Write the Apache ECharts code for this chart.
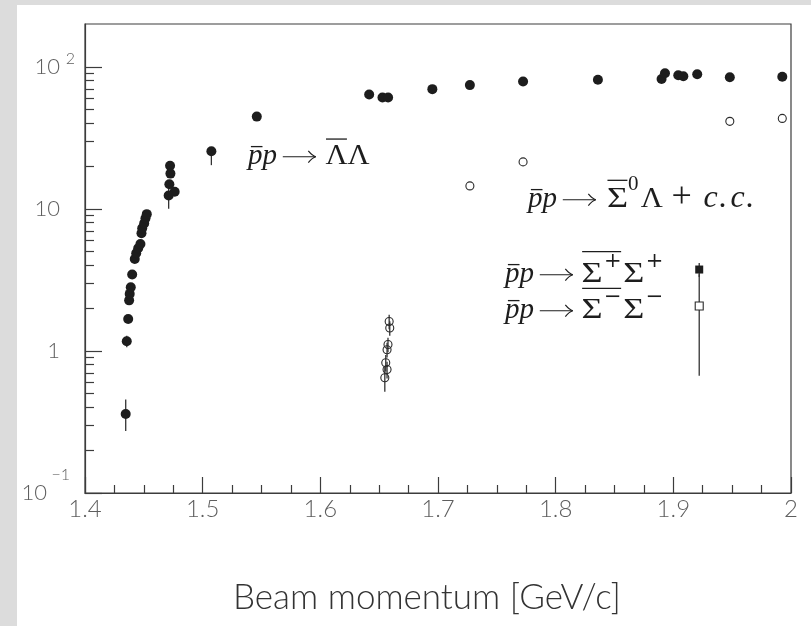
<!DOCTYPE html>
<html>
<head>
<meta charset="utf-8">
<script src="https://cdn.jsdelivr.net/npm/echarts@6/dist/echarts.min.js"></script>
<style>
  html, body { margin: 0; padding: 0; background: #fff; }
  #chart { width: 811px; height: 626px; }
</style>
</head>
<body>
<div id="chart"></div>
<script>
// ---- p̄p → Λ̄Λ : beam momentum [GeV/c], cross section [μb], error down / up ----
const lambdaMomentum = [
  1.4346, 1.4355, 1.4367, 1.4375, 1.4380, 1.4389, 1.4401, 1.4423, 1.4435, 1.4452,
  1.4471, 1.4480, 1.4486, 1.4503, 1.4514, 1.4525,
  1.4723, 1.4726, 1.4717, 1.4762, 1.4711,
  1.5074, 1.5460, 1.6415, 1.6528, 1.6576, 1.6952, 1.7271, 1.7723, 1.8359,
  1.8900, 1.8929, 1.9042, 1.9085, 1.9203, 1.9480, 1.9926
];
const lambdaSigma = [
  0.36, 1.17, 1.68, 2.27, 2.52, 2.81, 3.45, 4.43, 4.87, 5.28,
  5.66, 6.73, 7.29, 7.90, 8.57, 9.18,
  20.1, 17.7, 14.9, 13.2, 12.4,
  25.4, 44.6, 63.8, 60.7, 60.7, 69.6, 74.3, 78.8, 81.1,
  82.1, 90.1, 87.1, 85.8, 88.7, 84.5, 85.0
];
const lambdaErrDown = [
  0.087, 0.11, 0.08, 0.10, 0.10, 0.12, 0.15, 0.20, 0.20, 0.25,
  0.25, 0.30, 0.30, 0.35, 0.40, 0.40,
  0.8, 0.8, 0.8, 0.8, 2.4,
  5.1, 1.0, 1.0, 1.0, 1.0, 1.0, 1.0, 1.0, 1.0,
  1.0, 1.0, 1.0, 1.0, 1.0, 1.0, 1.0
];
const lambdaErrUp = [
  0.095, 0.11, 0.08, 0.10, 0.10, 0.12, 0.15, 0.20, 0.20, 0.25,
  0.25, 0.30, 0.30, 0.35, 0.40, 0.40,
  0.8, 0.8, 0.8, 0.8, 2.4,
  1.0, 1.0, 1.0, 1.0, 1.0, 1.0, 1.0, 1.0, 1.0,
  1.0, 1.0, 1.0, 1.0, 1.0, 1.0, 1.0
];

// ---- p̄p → Σ̄0Λ + c.c. ----
const sigma0Momentum = [1.6548, 1.6556, 1.6567, 1.6567, 1.6575, 1.6590, 1.6585, 1.7271, 1.7723, 1.9480, 1.9926];
const sigma0Sigma    = [0.647, 0.826, 0.74, 1.02, 1.11, 1.45, 1.61, 14.5, 21.4, 41.3, 43.3];
const sigma0Err      = [0.13, 0.11, 0.10, 0.12, 0.13, 0.17, 0.19, 0, 0, 0, 0];

// ---- p̄p → Σ̄+Σ+ and p̄p → Σ̄−Σ− ----
const sigmaPlusMomentum  = [1.922];
const sigmaPlusSigma     = [3.74];
const sigmaPlusErr       = [0.42];
const sigmaMinusMomentum = [1.922];
const sigmaMinusSigma    = [2.07];
const sigmaMinusErr      = [1.40];

// ---- axis ticks ----
const xTickValues = [1.4, 1.5, 1.6, 1.7, 1.8, 1.9, 2.0];
const xTickLabels = ['1.4', '1.5', '1.6', '1.7', '1.8', '1.9', '2'];
const yMajorTicks = [0.1, 1, 10, 100];
const yTickMantissa = ['10', '1', '10', '10'];
const yPosExponentTicks = [100];
const yPosExponentLabel = ['2'];
const yNegExponentTicks = [0.1];
const yNegExponentLabel = ['\u22121'];
const yMinorTicks = [0.2, 0.3, 0.4, 0.5, 0.6, 0.7, 0.8, 0.9,
                     2, 3, 4, 5, 6, 7, 8, 9,
                     20, 30, 40, 50, 60, 70, 80, 90];

const ink = '#1d1d1d';
const frame = '#3c3c3c';
const labelGrey = '#5e5e5e';
const sansFamily = 'Lato, "Open Sans", sans-serif';
const serifFamily = '"Liberation Serif", "DejaVu Serif", serif';
const symbolFamily = '"DejaVu Serif", "Liberation Serif", serif';

const zip2 = (a, b) => a.map((v, i) => [v, b[i]]);
const bars = (x, y, dn, up) => x.map((v, i) => [v, y[i] - dn[i], y[i] + up[i]]);
const sameLog = (a, b) => Math.abs(Math.log10(a) - Math.log10(b)) < 1e-6;

// ---- math-style reaction labels, laid out piece by piece ----
const measure = document.createElement('canvas').getContext('2d');
function formula(parts, left, baseline, size) {
  const out = [];
  const over = {};
  let x = left;
  parts.forEach(p => {
    x += (p.gap || 0) * size;
    if (p.arrow) {
      // long right arrow on the math axis
      const w = p.arrow * size;
      const y = baseline - 0.25 * size;
      const tip = x + w;
      out.push({ type: 'line', z: 20, shape: { x1: x, y1: y, x2: tip - 1, y2: y },
                 style: { stroke: ink, lineWidth: 1.2 } });
      [-1, 1].forEach(s => out.push({ type: 'bezierCurve', z: 20,
        shape: { x1: tip - 0.26 * size, y1: y + s * 0.2 * size, x2: tip, y2: y,
                 cpx1: tip - 0.12 * size, cpy1: y + s * 0.03 * size },
        style: { stroke: ink, lineWidth: 1.2, fill: null } }));
      x = tip;
      return;
    }
    const fs = Math.round(size * (p.scale || (p.sup ? 0.72 : 1)));
    const font = (p.it ? 'italic ' : '') + fs + 'px ' + (p.family || serifFamily);
    const sx = p.sx || 1;
    measure.font = font;
    measure.textBaseline = 'middle';
    const w = measure.measureText(p.t).width * sx;
    const drop = measure.measureText('x').actualBoundingBoxDescent;
    const base = baseline - (p.sup ? (p.raise || 0.45) * size : 0);
    out.push({
      type: 'text', x: x, y: base - drop, z: 20, scaleX: sx,
      style: { text: p.t, font: font, fill: ink, align: 'left', verticalAlign: 'middle' }
    });
    if (p.bar) {
      const o = over[p.bar] || (over[p.bar] = { x1: x + (p.it ? 0.1 * size : 0.02 * size), x2: x + w, h: 0 });
      o.x2 = x + w - (p.it ? 0 : 0.02 * size);
      o.h = Math.max(o.h, p.barH || 0);
    }
    x += w;
  });
  Object.keys(over).forEach(k => {
    const o = over[k];
    const y = baseline - o.h * size;
    out.push({
      type: 'line', z: 20,
      shape: { x1: o.x1, y1: y, x2: o.x2, y2: y },
      style: { stroke: ink, lineWidth: 1.3 }
    });
  });
  return out;
}

const S = 29;
const pbarp = [{ t: 'p', it: true, bar: 'a', barH: 0.6 }, { t: 'p', it: true }, { arrow: 1.14, gap: 0.2 }];
const labelLambda = formula(pbarp.concat([
  { t: '\u039B', gap: 0.33, bar: 'b', barH: 0.86, sx: 1.05 }, { t: '\u039B', sx: 1.05 }
]), 248, 164, S);
const labelSigma0 = formula(pbarp.concat([
  { t: '\u03A3', gap: 0.38, bar: 'b', barH: 0.92, sx: 1.25 }, { t: '0', sup: true, raise: 0.58 },
  { t: '\u039B', gap: 0.08, sx: 1.05 },
  { t: '+', gap: 0.3, scale: 1.25 },
  { t: 'c', it: true, gap: 0.4, scale: 1.12 }, { t: '.', it: true, gap: 0.05, scale: 1.12 },
  { t: 'c', it: true, gap: 0.12, scale: 1.12 }, { t: '.', it: true, gap: 0.05, scale: 1.12 }
]), 528, 207, S);
const labelSigmaPlus = formula(pbarp.concat([
  { t: '\u03A3', gap: 0.3, bar: 'b', barH: 1.05, sx: 1.25 },
  { t: '+', sup: true, bar: 'b', family: symbolFamily, raise: 0.52, gap: 0.05 },
  { t: '\u03A3', sx: 1.25, gap: 0.05 },
  { t: '+', sup: true, family: symbolFamily, raise: 0.52, gap: 0.05 }
]), 505, 282, S);
const labelSigmaMinus = formula(pbarp.concat([
  { t: '\u03A3', gap: 0.3, bar: 'b', barH: 1.02, sx: 1.25 },
  { t: '\u2212', sup: true, bar: 'b', family: symbolFamily, raise: 0.52, gap: 0.05 },
  { t: '\u03A3', sx: 1.25, gap: 0.05 },
  { t: '\u2212', sup: true, family: symbolFamily, raise: 0.52, gap: 0.05 }
]), 505, 318, S);

const errorBarSeries = (data) => ({
  type: 'custom',
  data: data,
  encode: { x: 0, y: [1, 2] },
  z: 3,
  silent: true,
  renderItem: (params, api) => {
    const a = api.coord([api.value(0), api.value(1)]);
    const b = api.coord([api.value(0), api.value(2)]);
    return {
      type: 'line',
      shape: { x1: a[0], y1: a[1], x2: b[0], y2: b[1] },
      style: { stroke: '#333', lineWidth: 1.3 }
    };
  }
});

const chart = echarts.init(document.getElementById('chart'), null, { renderer: 'canvas' });

// all y axes share one logarithmic scale; the extra ones only carry ticks or exponents
const logAxis = (extra) => Object.assign({
  type: 'log', logBase: 10, min: 0.1, max: 200,
  position: 'left',
  axisLine: { show: false },
  axisTick: { show: false },
  axisLabel: { show: false },
  splitLine: { show: false },
  minorTick: { show: false },
  minorSplitLine: { show: false }
}, extra);

const exponentLabel = (ticks, texts, margin, lift) => ({
  show: true, customValues: ticks, margin: margin,
  fontSize: 16, fontWeight: 300, fontFamily: sansFamily, color: labelGrey,
  verticalAlign: 'bottom', padding: [0, 0, lift, 0],
  formatter: v => {
    const i = ticks.findIndex(t => sameLog(t, v));
    return i < 0 ? '' : texts[i];
  }
});

chart.setOption({
  animation: false,
  backgroundColor: '#dcdcdc',
  grid: {
    left: 85, right: 20, top: 24, bottom: 133,
    show: true, borderColor: frame, borderWidth: 1.2, backgroundColor: 'transparent',
    outerBoundsMode: 'none'
  },
  xAxis: {
    type: 'value', min: 1.4, max: 2, interval: 0.1,
    axisLine: { lineStyle: { color: frame, width: 1.2 } },
    axisTick: { inside: true, length: 16, lineStyle: { color: frame, width: 1.2 } },
    minorTick: { show: true, splitNumber: 4, length: 8, lineStyle: { color: frame, width: 1.2 } },
    splitLine: { show: false },
    axisLabel: {
      margin: 4, fontSize: 24, fontWeight: 300, fontFamily: sansFamily, color: labelGrey,
      formatter: v => {
        const i = xTickValues.findIndex(t => Math.abs(t - v) < 1e-6);
        return i < 0 ? '' : xTickLabels[i];
      }
    }
  },
  yAxis: [
    logAxis({
      axisLine: { show: true, lineStyle: { color: frame, width: 1.2 } },
      axisTick: { show: true, inside: true, length: 17, customValues: yMajorTicks,
                  lineStyle: { color: frame, width: 1.2 } },
      axisLabel: {
        show: true, margin: 25, customValues: yMajorTicks,
        formatter: v => {
          const i = yMajorTicks.findIndex(t => sameLog(t, v));
          if (i < 0) return '';
          return '{b|' + yTickMantissa[i] + '}' + (yNegExponentTicks.some(t => sameLog(t, v)) ? '{pad|}' : '');
        },
        rich: {
          b:   { fontSize: 22, fontWeight: 300, fontFamily: sansFamily, color: labelGrey },
          pad: { width: 13 }
        }
      }
    }),
    logAxis({
      axisTick: { show: true, inside: true, length: 9, customValues: yMinorTicks,
                  lineStyle: { color: frame, width: 1.2 } }
    }),
    logAxis({ axisLabel: exponentLabel(yPosExponentTicks, yPosExponentLabel, 10, 0) }),
    logAxis({ axisLabel: exponentLabel(yNegExponentTicks, yNegExponentLabel, 15, 10) })
  ],
  graphic: {
    elements: [
      { type: 'rect', z: -100, silent: true, shape: { x: 17, y: 5, width: 794, height: 621 }, style: { fill: '#ffffff' } },
      { type: 'text', x: 427, y: 598, z: 20,
        style: { text: 'Beam momentum [GeV/c]', font: '300 35px ' + sansFamily, fill: '#333', align: 'center', verticalAlign: 'middle' } }
    ].concat(labelLambda, labelSigma0, labelSigmaPlus, labelSigmaMinus)
  },
  series: [
    errorBarSeries(bars(lambdaMomentum, lambdaSigma, lambdaErrDown, lambdaErrUp)),
    errorBarSeries(bars(sigma0Momentum, sigma0Sigma, sigma0Err, sigma0Err)),
    errorBarSeries(bars(sigmaPlusMomentum, sigmaPlusSigma, sigmaPlusErr, sigmaPlusErr)),
    errorBarSeries(bars(sigmaMinusMomentum, sigmaMinusSigma, sigmaMinusErr, sigmaMinusErr)),
    {
      type: 'scatter', name: 'LambdaLambda', z: 5,
      data: zip2(lambdaMomentum, lambdaSigma),
      symbol: 'circle', symbolSize: 10,
      itemStyle: { color: ink, opacity: 1 }
    },
    {
      type: 'scatter', name: 'Sigma0Lambda', z: 5,
      data: zip2(sigma0Momentum, sigma0Sigma),
      symbol: 'circle', symbolSize: 8,
      itemStyle: { color: 'rgba(255,255,255,0)', borderColor: '#2a2a2a', borderWidth: 1.1, opacity: 1 }
    },
    {
      type: 'scatter', name: 'SigmaPlus', z: 5,
      data: zip2(sigmaPlusMomentum, sigmaPlusSigma),
      symbol: 'rect', symbolSize: 8,
      itemStyle: { color: ink, opacity: 1 }
    },
    {
      type: 'scatter', name: 'SigmaMinus', z: 5,
      data: zip2(sigmaMinusMomentum, sigmaMinusSigma),
      symbol: 'rect', symbolSize: 8,
      itemStyle: { color: '#fff', borderColor: '#2a2a2a', borderWidth: 1.1, opacity: 1 }
    }
  ]
});
</script>
</body>
</html>
